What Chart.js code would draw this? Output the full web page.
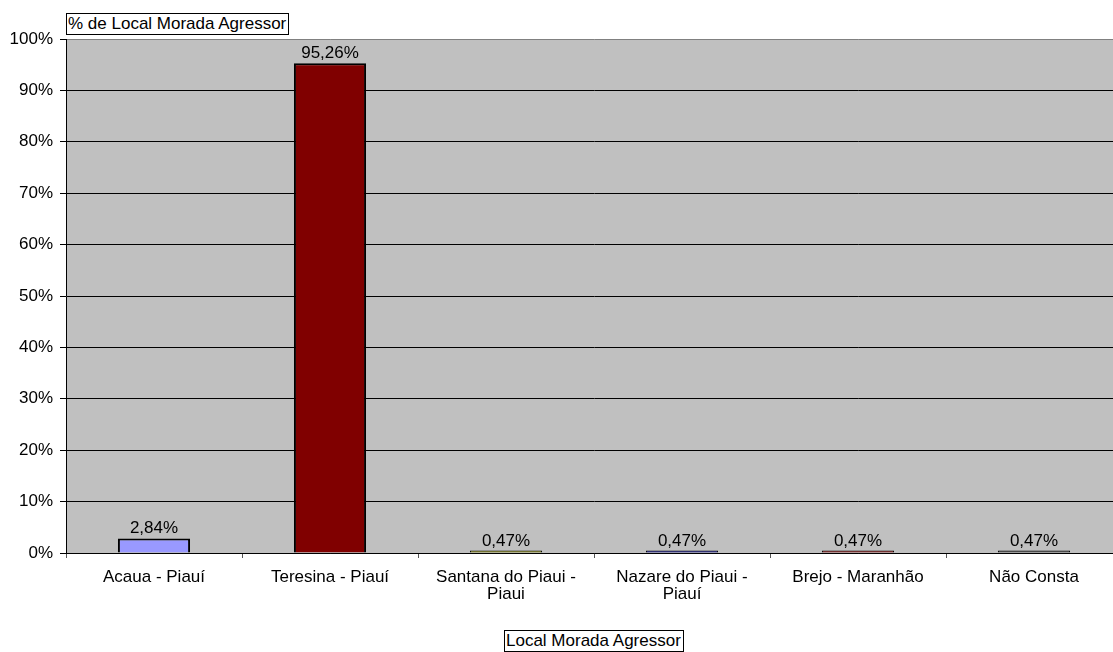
<!DOCTYPE html>
<html>
<head>
<meta charset="utf-8">
<script src="https://cdn.jsdelivr.net/npm/chart.js@4"></script>
<style>
  body { margin: 0; background: #fff; font-family: "Liberation Sans", Arial, sans-serif; overflow: hidden; }
  #wrap { position: relative; width: 1113px; height: 652px; overflow: hidden; }
  #chart { position: absolute; left: 0; top: 0; }
  .box { position: absolute; border: 1px solid #000; background: #fff; font-size: 17px; line-height: 20px; padding: 0 2px 0 1px; color: #000; white-space: nowrap; }
</style>
</head>
<body>
<div id="wrap">
  <canvas id="chart" width="1124" height="652"></canvas>
  <div class="box" id="yTitle" style="left:66px; top:13px;">% de Local Morada Agressor</div>
  <div class="box" id="xTitle" style="left:504px; top:630px;">Local Morada Agressor</div>
</div>
<script>
// Categories and values
const categories = [
    'Acaua - Piauí',
    'Teresina - Piauí',
    ['Santana do Piaui -', 'Piaui'],
    ['Nazare do Piaui -', 'Piauí'],
    'Brejo - Maranhão',
    'Não Consta'
];
const percentValues = [2.84, 95.26, 0.47, 0.47, 0.47, 0.47];
const valueLabels = ['2,84%', '95,26%', '0,47%', '0,47%', '0,47%', '0,47%'];
const barColors = ['#9999FF', '#800000', '#808000', '#000080', '#800000', '#333333'];
const yTickValues = [0, 10, 20, 30, 40, 50, 60, 70, 80, 90, 100];

const FONT = '"Liberation Sans", Arial, sans-serif';

// Draw value labels above each bar
const valueLabelPlugin = {
    id: 'valueLabels',
    afterDatasetsDraw(chart) {
        const ctx = chart.ctx;
        const meta = chart.getDatasetMeta(0);
        ctx.save();
        ctx.font = '17px ' + FONT;
        ctx.fillStyle = '#000';
        ctx.textAlign = 'center';
        ctx.textBaseline = 'alphabetic';
        meta.data.forEach((bar, i) => {
            ctx.fillText(valueLabels[i], bar.x, bar.y - 5);
        });
        ctx.restore();
    }
};

// Gray plot background
const plotBgPlugin = {
    id: 'plotBg',
    beforeDraw(chart) {
        const a = chart.chartArea;
        const ctx = chart.ctx;
        ctx.save();
        ctx.fillStyle = '#C0C0C0';
        ctx.fillRect(a.left, a.top, a.right - a.left, a.bottom - a.top);
        ctx.restore();
    }
};

new Chart(document.getElementById('chart'), {
    type: 'bar',
    data: {
        labels: categories,
        datasets: [{
            data: percentValues,
            backgroundColor: barColors,
            borderColor: '#000',
            // thin outline on the tiny bars so their fill stays visible
            borderWidth: (c) => (c.raw < 1 ? 1 : 2),
            borderSkipped: 'start',
            barPercentage: 0.41,
            categoryPercentage: 1.0
        }]
    },
    options: {
        responsive: false,
        animation: false,
        events: [],
        layout: { padding: { left: 0, top: 39, right: 2, bottom: 0 } },
        plugins: {
            legend: { display: false },
            tooltip: { enabled: false }
        },
        scales: {
            x: {
                offset: true,
                grid: {
                    offset: true,
                    drawOnChartArea: false,
                    color: '#000',
                    tickLength: 5,
                    tickColor: '#555'
                },
                border: { color: '#000', width: 1 },
                ticks: {
                    color: '#000',
                    font: { size: 17, family: FONT, lineHeight: 1.05 },
                    maxRotation: 0,
                    autoSkip: false,
                    padding: 10
                },
                afterFit(scale) { scale.height = 99; }
            },
            y: {
                min: 0,
                max: 100,
                afterBuildTicks(scale) {
                    scale.ticks = yTickValues.map(v => ({ value: v }));
                },
                grid: {
                    color: (c) => c.tick && c.tick.value === 100 ? '#808080' : '#000',
                    lineWidth: 1,
                    tickLength: 6,
                    tickColor: '#000'
                },
                border: { color: '#000', width: 1 },
                ticks: {
                    color: '#000',
                    font: { size: 17, family: FONT },
                    padding: 7,
                    callback: v => v + '%'
                },
                afterFit(scale) { scale.width = 66; }
            }
        }
    },
    plugins: [plotBgPlugin, valueLabelPlugin]
});
</script>
</body>
</html>
